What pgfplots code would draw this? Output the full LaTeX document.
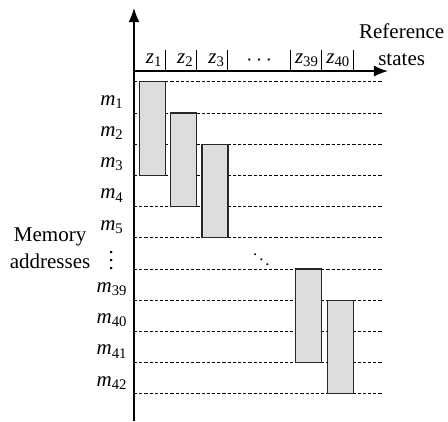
\documentclass[border=0pt]{standalone}
\usepackage{fontspec}
\setmainfont{Liberation Serif}
\usepackage{pgfplots}
\pgfplotsset{compat=1.18}
\usetikzlibrary{arrows.meta}
\definecolor{boxgray}{HTML}{DDDDDD}

\begin{document}
\begin{tikzpicture}[font=\fontsize{10.5}{13.5}\selectfont]
\begin{axis}[
    x=15.65pt, y=15.6pt, y dir=reverse,
    xmin=0, xmax=7.96, ymin=0, ymax=10,
    hide axis, clip=false,
]
% dashed address lines
\pgfplotsinvokeforeach{0,...,10}{
  \addplot[black, line width=0.45pt, dash pattern=on 1.6pt off 1pt] coordinates {(0,#1) (7.96,#1)};
}
% memory blocks (column, first row, last row)
\addplot[fill=boxgray, draw=black!85, line width=0.6pt] coordinates {(0.17,0) (1,0) (1,3) (0.17,3)} --cycle;
\addplot[fill=boxgray, draw=black!85, line width=0.6pt] coordinates {(1.17,1) (2,1) (2,4) (1.17,4)} --cycle;
\addplot[fill=boxgray, draw=black!85, line width=0.6pt] coordinates {(2.17,2) (3,2) (3,5) (2.17,5)} --cycle;
\addplot[fill=boxgray, draw=black!85, line width=0.6pt] coordinates {(5.17,6) (6,6) (6,9) (5.17,9)} --cycle;
\addplot[fill=boxgray, draw=black!85, line width=0.6pt] coordinates {(6.17,7) (7,7) (7,10) (6.17,10)} --cycle;

% axes with arrows
\draw[-{Latex[length=7pt,width=5.5pt]}, line width=0.6pt] (axis cs:0,10.875) -- (axis cs:0,-2.36);
\draw[-{Latex[length=7pt,width=5.5pt]}, line width=0.6pt] (axis cs:0,-0.343) -- (axis cs:8.11,-0.343);
\pgfplotsinvokeforeach{1,2,3,5,6,7}{
  \draw[line width=0.5pt] (axis cs:#1,-0.343) -- (axis cs:#1,-1.02);
}

% state labels
\node[anchor=base east, inner sep=0pt] at (axis cs:0.92,-0.6) {\textit{z}\textsubscript{1}};
\node[anchor=base east, inner sep=0pt] at (axis cs:1.92,-0.6) {\textit{z}\textsubscript{2}};
\node[anchor=base east, inner sep=0pt] at (axis cs:2.92,-0.6) {\textit{z}\textsubscript{3}};
\node[anchor=base east, inner sep=0pt] at (axis cs:5.92,-0.6) {\textit{z}\textsubscript{39}};
\node[anchor=base east, inner sep=0pt] at (axis cs:6.92,-0.6) {\textit{z}\textsubscript{40}};
\node at (axis cs:4.0,-0.67) {$\cdots$};

% address labels
\node[anchor=base, inner sep=0pt] at (axis cs:-0.70,0.75) {\textit{m}\textsubscript{1}};
\node[anchor=base, inner sep=0pt] at (axis cs:-0.70,1.75) {\textit{m}\textsubscript{2}};
\node[anchor=base, inner sep=0pt] at (axis cs:-0.70,2.75) {\textit{m}\textsubscript{3}};
\node[anchor=base, inner sep=0pt] at (axis cs:-0.70,3.75) {\textit{m}\textsubscript{4}};
\node[anchor=base, inner sep=0pt] at (axis cs:-0.70,4.75) {\textit{m}\textsubscript{5}};
\node[inner sep=0pt] at (axis cs:-0.73,5.55) {$\vdots$};
\node[anchor=base, inner sep=0pt] at (axis cs:-0.70,6.75) {\textit{m}\textsubscript{39}};
\node[anchor=base, inner sep=0pt] at (axis cs:-0.70,7.75) {\textit{m}\textsubscript{40}};
\node[anchor=base, inner sep=0pt] at (axis cs:-0.70,8.75) {\textit{m}\textsubscript{41}};
\node[anchor=base, inner sep=0pt] at (axis cs:-0.70,9.75) {\textit{m}\textsubscript{42}};
\node[scale=0.8] at (axis cs:4.07,5.54) {$\ddots$};

% axis titles
\node[align=center] at (axis cs:-2.68,5.33) {Memory\\addresses};
\node[align=center] at (axis cs:8.55,-1.18) {Reference\\states};

\coordinate (BL) at (axis cs:-4.28,10.875);
\coordinate (TR) at (axis cs:10.03,-2.62);
\end{axis}
\pgfresetboundingbox
\path[use as bounding box] (BL) rectangle (TR);
\end{tikzpicture}
\end{document}
